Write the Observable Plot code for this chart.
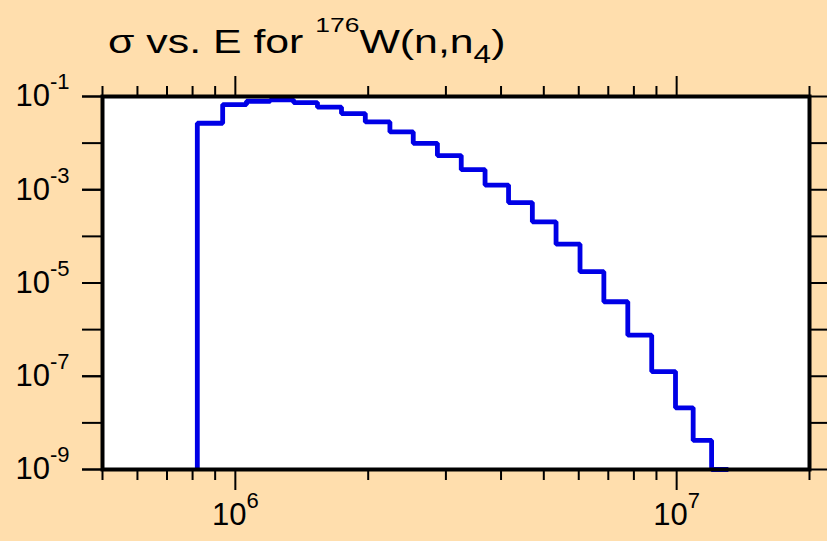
<!DOCTYPE html>
<html><head><meta charset="utf-8">
<script src="https://cdn.jsdelivr.net/npm/d3@7"></script>
<script src="https://cdn.jsdelivr.net/npm/@observablehq/plot@0.6"></script>
<style>
html,body{margin:0;padding:0;background:#ffdead;}
#chart{width:827px;height:541px;}
</style></head><body><div id="chart"></div>
<script>
// Bin edges (energy, eV) and cross-section level in each bin
const binEdges = [8.2e5, 9.36e5, 1.06e6, 1.2e6, 1.355e6, 1.535e6, 1.74e6, 1.97e6, 2.24e6, 2.53e6, 2.87e6, 3.25e6, 3.68e6, 4.16e6, 4.71e6, 5.33e6, 6.04e6, 6.84e6, 7.75e6, 8.78e6, 9.94e6, 1.09e7, 1.2e7, 1.31e7];
const sigma = [2.67e-2, 6.7e-2, 7.9e-2, 8.5e-2, 7.4e-2, 5.9e-2, 4.3e-2, 2.85e-2, 1.74e-2, 9.9e-3, 5.4e-3, 2.7e-3, 1.26e-3, 5.3e-4, 2.05e-4, 6.8e-5, 1.75e-5, 3.96e-6, 7.6e-7, 1.26e-7, 2.1e-8, 4.2e-9, 1e-9];

const xDomain = [5e5, 2e7];
const yDomain = [1e-9, 1e-1];
const xMajorTicks = [1e6, 1e7];
const xMajorExp = ["6", "7"];
const xMinorTicks = [5e5, 6e5, 7e5, 8e5, 9e5, 2e6, 3e6, 4e6, 5e6, 6e6, 7e6, 8e6, 9e6, 2e7];
const yDecades = [1e-1, 1e-2, 1e-3, 1e-4, 1e-5, 1e-6, 1e-7, 1e-8, 1e-9];
const yLabelTicks = [1e-1, 1e-3, 1e-5, 1e-7, 1e-9];
const yLabelExp = ["-1", "-3", "-5", "-7", "-9"];

// step path table: rise at first edge, then one level per bin
const pts = [{E: binEdges[0], s: yDomain[0]}];
sigma.forEach((s, i) => pts.push({E: binEdges[i], s}));
pts.push({E: binEdges[binEdges.length - 1], s: sigma[sigma.length - 1]});

const supMap = new Map([...xMajorTicks.map((t, i) => [String(t), xMajorExp[i]]), ...yLabelTicks.map((t, i) => [String(t), yLabelExp[i]])]);

const plot = Plot.plot({
  width: 827, height: 541,
  marginLeft: 102, marginRight: 18, marginTop: 96, marginBottom: 72,
  style: {background: "transparent", color: "black", fontFamily: "'Liberation Sans', Arial, sans-serif", fontSize: "31px", overflow: "visible"},
  x: {type: "log", domain: xDomain, label: null},
  y: {type: "log", domain: yDomain, label: null},
  marks: [
    Plot.frame({fill: "white", stroke: null}),
    Plot.line(pts, {x: "E", y: "s", curve: "step-after", stroke: "#0000e6", strokeWidth: 4.8, strokeLinejoin: "miter", strokeLinecap: "butt"}),
    Plot.axisX({anchor: "top", ticks: xMinorTicks, tickSize: 11, strokeWidth: 2, tickFormat: () => "", label: null}),
    Plot.axisX({anchor: "top", ticks: xMajorTicks, tickSize: 21, strokeWidth: 2, tickFormat: () => "", label: null}),
    Plot.axisX({anchor: "bottom", ticks: xMinorTicks, tickSize: 11, strokeWidth: 2, tickFormat: () => "", label: null}),
    Plot.axisX({anchor: "bottom", ticks: xMajorTicks, tickSize: 21, tickPadding: 12, strokeWidth: 2, tickFormat: d => "10|" + d, fill: "black", label: null}),
    Plot.axisY({anchor: "left", ticks: yDecades, tickSize: 20, strokeWidth: 2, tickFormat: () => "", label: null}),
    Plot.axisY({anchor: "left", ticks: yLabelTicks, tickSize: 20, tickPadding: 13, strokeWidth: 2, tickFormat: d => "10|" + d, fill: "black", label: null}),
    Plot.axisY({anchor: "right", ticks: yDecades, tickSize: 20, strokeWidth: 2, tickFormat: () => "", label: null}),
    Plot.frame({stroke: "black", strokeWidth: 4})
  ]
});

// render exponents as superscripts
d3.select(plot).selectAll("text").each(function () {
  const t = this.textContent;
  if (!t.startsWith("10|")) return;
  const key = t.slice(3);
  const exp = supMap.get(key) ?? supMap.get(String(+key));
  const sel = d3.select(this);
  sel.text(null);
  sel.append("tspan").text("10");
  sel.append("tspan").attr("dy", "-17px").style("font-size", "22px").text(exp);
});

// title (horizontally stretched like the original)
const title = d3.select(plot).append("text")
  .attr("transform", "translate(108,53) scale(1.26,1)").attr("text-anchor", "start")
  .style("font-size", "34px").style("white-space", "pre").attr("fill", "black");
title.append("tspan").text("σ vs. E for ");
title.append("tspan").attr("dy", "-21px").style("font-size", "21px").text("176");
title.append("tspan").attr("dy", "21px").text("W(n,n");
title.append("tspan").attr("dy", "10px").style("font-size", "25px").text("4");
title.append("tspan").attr("dy", "-10px").text(")");

document.getElementById("chart").appendChild(plot);
</script>
</body></html>
